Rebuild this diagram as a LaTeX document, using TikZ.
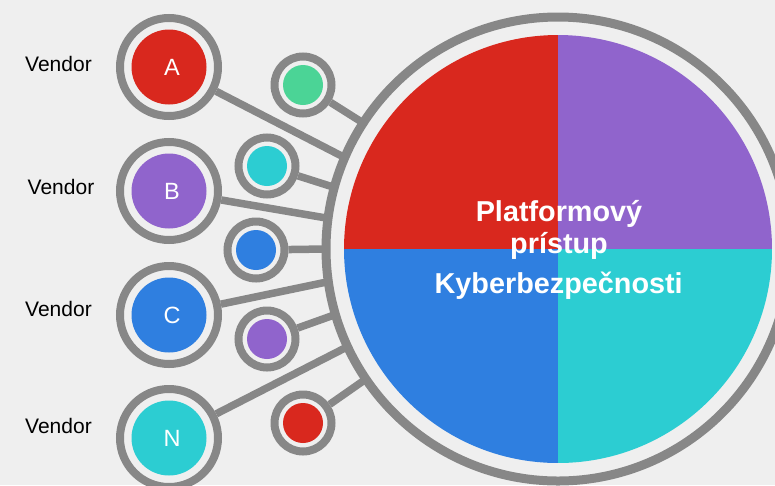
\documentclass[tikz,border=0pt]{standalone}
\usepackage{fontspec}
\setmainfont{Liberation Sans}
\usetikzlibrary{calc}
\pgfdeclarelayer{back}
\pgfdeclarelayer{lines}
\pgfsetlayers{back,lines,main}
\definecolor{bgc}{HTML}{EFEFEF}
\definecolor{ringc}{HTML}{878787}
\definecolor{cred}{HTML}{D9281E}
\definecolor{cpurple}{HTML}{9064CC}
\definecolor{cblue}{HTML}{2F7FE0}
\definecolor{ccyan}{HTML}{2CCDD2}
\definecolor{cgreen}{HTML}{4BD496}
\tikzset{
  bigring/.style={circle, draw=ringc, line width=8pt, fill=bgc, minimum size=98pt, inner sep=0pt},
  bigfill/.style={circle, fill=#1, minimum size=75pt, inner sep=0pt, text=white,
     font=\fontsize{23.5}{27}\selectfont},
  smallring/.style={circle, draw=ringc, line width=8pt, fill=bgc, minimum size=57pt, inner sep=0pt},
  smallfill/.style={circle, fill=#1, minimum size=40pt, inner sep=0pt},
  conn/.style={draw=ringc, line width=7.5pt},
  vlabel/.style={anchor=base, font=\fontsize{21}{24}\selectfont, text=black, inner sep=0pt},
  ttl/.style={anchor=base, font=\fontsize{28.8}{32}\selectfont\bfseries, text=white, inner sep=0pt}
}
\begin{document}
\begin{tikzpicture}[x=1pt, y=-1pt]
\useasboundingbox (0,0) rectangle (775,485);
\begin{pgfonlayer}{back}
\fill[bgc] (0,0) rectangle (775,485);
\end{pgfonlayer}
\clip (0,0) rectangle (775,485);

% hub center
\coordinate (hc) at (558,249);

% vendor circles
\node[bigring] (A) at (169,67) {};
\node[bigfill=cred] (Af) at (169,67) {\hspace*{6pt}A};
\node[bigring] (B) at (169,191) {};
\node[bigfill=cpurple] (Bf) at (169,191) {\hspace*{6pt}B};
\node[bigring] (C) at (169,315) {};
\node[bigfill=cblue] (Cf) at (169,315) {\hspace*{6pt}C};
\node[bigring] (N) at (169,438) {};
\node[bigfill=ccyan] (Nf) at (169,438) {\hspace*{6pt}N};

% small circles
\node[smallring] (s1) at (303,85) {};
\node[smallfill=cgreen] (s1f) at (303,85) {};
\node[smallring] (s2) at (267,166) {};
\node[smallfill=ccyan] (s2f) at (267,166) {};
\node[smallring] (s3) at (256,250) {};
\node[smallfill=cblue] (s3f) at (256,250) {};
\node[smallring] (s4) at (267,339) {};
\node[smallfill=cpurple] (s4f) at (267,339) {};
\node[smallring] (s5) at (303,423) {};
\node[smallfill=cred] (s5f) at (303,423) {};

% end points on hub ring
\coordinate (e1) at ($(hc)+(147.1:232pt)$);
\coordinate (eA) at ($(hc)+(156.8:232pt)$);
\coordinate (e2) at ($(hc)+(164.6:232pt)$);
\coordinate (eB) at ($(hc)+(172.4:232pt)$);
\coordinate (e3) at ($(hc)+(180.0:232pt)$);
\coordinate (eC) at ($(hc)+(188.1:232pt)$);
\coordinate (e4) at ($(hc)+(196.4:232pt)$);
\coordinate (eN) at ($(hc)+(204.9:232pt)$);
\coordinate (e5) at ($(hc)+(214.1:232pt)$);

\begin{pgfonlayer}{lines}
\draw[conn] (A) -- (eA);
\draw[conn] (B) -- (eB);
\draw[conn] (C) -- (eC);
\draw[conn] (N) -- (eN);
\draw[conn] (s1) -- (e1);
\draw[conn] (s2) -- (e2);
\draw[conn] (s3) -- (e3);
\draw[conn] (s4) -- (e4);
\draw[conn] (s5) -- (e5);
\end{pgfonlayer}

% hub
\node[circle, draw=ringc, line width=9pt, fill=bgc, minimum size=464pt, inner sep=0pt] (hub) at (hc) {};
\begin{scope}
\clip (hc) circle (214pt);
\fill[cred] (344,35) rectangle (558,249);
\fill[cpurple] (558,35) rectangle (772,249);
\fill[cblue] (344,249) rectangle (558,463);
\fill[ccyan] (558,249) rectangle (772,463);
\end{scope}

% title
\node[ttl] (t1) at (559,221.7) {Platformový};
\node[ttl] (t2) at (559,253.5) {prístup};
\node[ttl] (t3) at (558.7,293) {Kyberbezpečnosti};

% vendor labels
\node[vlabel] (vA) at (58.5,71.7) {Vendor};
\node[vlabel] (vB) at (61,194.7) {Vendor};
\node[vlabel] (vC) at (58.5,316.7) {Vendor};
\node[vlabel] (vN) at (58.5,433.7) {Vendor};
\end{tikzpicture}
\end{document}
